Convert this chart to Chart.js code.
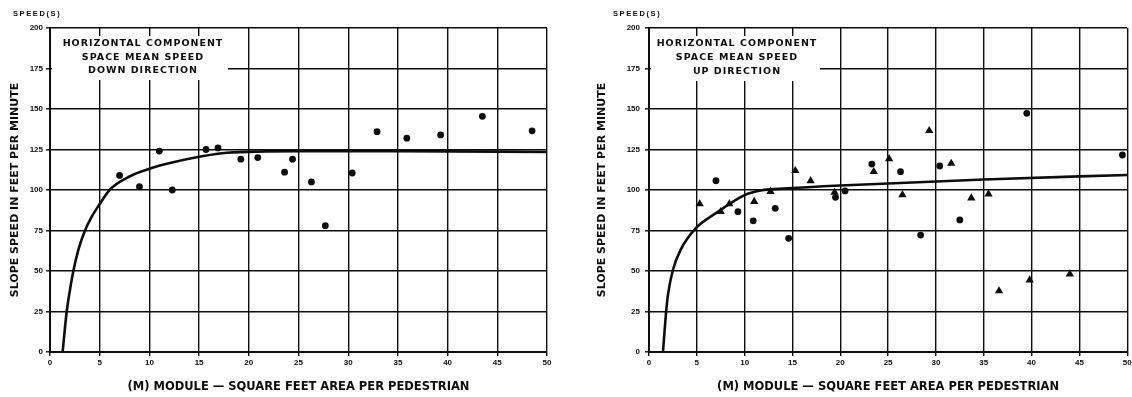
<!DOCTYPE html>
<html>
<head>
<meta charset="utf-8">
<script src="https://cdn.jsdelivr.net/npm/chart.js@4.4.1/dist/chart.umd.min.js"></script>
<style>
  html, body { margin: 0; padding: 0; background: #fff; }
  #wrap { position: relative; width: 1132px; height: 397px; overflow: hidden; }
  canvas { position: absolute; top: 0; display: block; }
</style>
</head>
<body>
<div id="wrap">
  <canvas id="left" width="566" height="397" style="left:0px"></canvas>
  <canvas id="right" width="566" height="397" style="left:566px"></canvas>
</div>
<script>
// ---- tick values ----
const moduleTicks = [0, 5, 10, 15, 20, 25, 30, 35, 40, 45, 50];
const speedTicks = [0, 25, 50, 75, 100, 125, 150, 175, 200];

// ---- DOWN direction (left chart) ----
const downDotM = [7, 9, 11, 12.3, 15.7, 16.9, 19.2, 20.9, 23.6, 24.4, 26.3, 27.7, 30.4, 32.9, 35.9, 39.3, 43.5, 48.5];
const downDotS = [109, 102, 124, 100, 125, 126, 119, 120, 111, 119, 105, 78, 110.5, 136, 132, 134, 145.5, 136.5];
const downCurveM = [1.27, 1.68, 2.0, 2.35, 2.85, 3.52, 4.2, 4.93, 6.04, 8.05, 9.96, 12.07, 15, 17.8, 25, 35, 50];
const downCurveS = [0, 25, 38, 50, 63, 75, 83.5, 90.7, 100.3, 108.5, 113, 116.6, 120.5, 123, 124, 124, 123.5];

// ---- UP direction (right chart) ----
const upDotM = [7, 9.3, 10.9, 13.2, 14.6, 19.5, 20.5, 23.3, 26.3, 28.4, 30.4, 32.5, 39.5, 49.5];
const upDotS = [105.7, 86.6, 81, 88.7, 70.2, 95.5, 99.4, 116, 111.3, 72.2, 114.8, 81.5, 147.3, 121.6];
const upTriM = [5.3, 7.5, 8.4, 11, 12.7, 15.3, 16.9, 19.4, 23.5, 25.1, 26.5, 29.3, 31.6, 33.7, 35.5, 36.6, 39.8, 44];
const upTriS = [91.4, 86.6, 91.4, 92.8, 99, 111.9, 105.7, 98.6, 111.3, 119.3, 97, 136.6, 116.4, 95, 97.5, 37.7, 44.4, 48.1];
const upCurveM = [1.46, 1.81, 2.0, 2.5, 3.3, 4.87, 6.96, 9.05, 10.4, 11.8, 13.6, 20, 25, 35, 50];
const upCurveS = [0, 26, 36, 50.6, 63, 76.3, 85.6, 93.8, 97.8, 99.9, 100.7, 102.8, 104, 106.5, 109.3];

// ---- texts ----
const yTitle = 'SLOPE SPEED IN FEET PER MINUTE';
const xTitle = '(M) MODULE \u2014 SQUARE FEET AREA PER PEDESTRIAN';
const speedLabel = 'SPEED(S)';
const downNote = ['HORIZONTAL COMPONENT', 'SPACE MEAN SPEED', 'DOWN DIRECTION'];
const upNote = ['HORIZONTAL COMPONENT', 'SPACE MEAN SPEED', 'UP DIRECTION'];

function pts(xs, ys) { return xs.map((x, i) => ({ x: x, y: ys[i] })); }

const INK = '#0d0d0d';

function makeChart(id, cfg) {
  const notePlugin = {
    id: 'note' + id,
    beforeDatasetsDraw(chart) {
      const ctx = chart.ctx;
      ctx.save();
      ctx.fillStyle = '#fff';
      ctx.fillRect(cfg.box[0], cfg.box[1], cfg.box[2], cfg.box[3]);
      ctx.fillStyle = INK;
      ctx.font = 'bold 9.5px "DejaVu Sans"';
      ctx.letterSpacing = '1px';
      ctx.textAlign = 'center';
      ctx.textBaseline = 'middle';
      cfg.note.forEach((t, i) => ctx.fillText(t, cfg.noteX, cfg.noteY[i]));
      ctx.restore();
    },
    afterDraw(chart) {
      const ctx = chart.ctx;
      ctx.save();
      ctx.fillStyle = INK;
      ctx.font = 'bold 7.5px "Liberation Sans"';
      ctx.letterSpacing = '1.6px';
      ctx.textAlign = 'left';
      ctx.textBaseline = 'middle';
      ctx.fillText(speedLabel, cfg.speedX, 14);
      ctx.restore();
    }
  };
  const tickFont = { family: '"Liberation Sans"', size: 8, weight: 'bold' };
  return new Chart(document.getElementById(id), {
    type: 'scatter',
    data: {
      datasets: cfg.datasets
    },
    options: {
      responsive: false,
      animation: false,
      events: [],
      layout: { padding: { top: 28, bottom: 0, left: cfg.padLeft, right: cfg.padRight } },
      plugins: { legend: { display: false }, tooltip: { enabled: false } },
      scales: {
        x: {
          type: 'linear', min: 0, max: 50,
          afterBuildTicks(s) { s.ticks = moduleTicks.map(v => ({ value: v })); },
          afterFit(s) { s.height = 45; s.paddingLeft = 0; s.paddingRight = 0; },
          ticks: { color: INK, font: tickFont, padding: 2, maxRotation: 0, autoSkip: false },
          grid: { color: INK, lineWidth: 1.4, tickLength: 4, tickColor: INK, tickWidth: 1.4 },
          border: { color: INK, width: 2 },
          title: { display: true, text: xTitle, color: INK,
                   font: { family: '"DejaVu Sans"', size: 11.5, weight: 'bold' },
                   padding: { top: 0, bottom: 3 } }
        },
        y: {
          type: 'linear', min: 0, max: 200,
          afterBuildTicks(s) { s.ticks = speedTicks.map(v => ({ value: v })); },
          afterFit(s) { s.width = cfg.yWidth; s.paddingTop = 0; s.paddingBottom = 0; },
          ticks: { color: INK, font: tickFont, padding: cfg.yTickPad, autoSkip: false },
          grid: { color: INK, lineWidth: 1.6, tickLength: 4, tickColor: INK, tickWidth: 1.4 },
          border: { color: INK, width: 2 },
          title: { display: true, text: yTitle, color: INK,
                   font: { family: '"DejaVu Sans"', size: 11, weight: 'bold' },
                   padding: { top: 9, bottom: 0 } }
        }
      }
    },
    plugins: [notePlugin]
  });
}

const curveStyle = { showLine: true, pointRadius: 0, borderColor: INK, borderWidth: 2.6,
                     cubicInterpolationMode: 'monotone', fill: false };
const dotStyle = { pointStyle: 'circle', pointRadius: 3.4, backgroundColor: INK, borderColor: INK, borderWidth: 0, showLine: false };
const triStyle = { pointStyle: 'triangle', pointRadius: 4.8, backgroundColor: INK, borderColor: INK, borderWidth: 0, showLine: false };

makeChart('left', {
  padLeft: 0, padRight: 19, yWidth: 50, yTickPad: 3,
  box: [52, 36, 176, 44], note: downNote, noteX: 143, noteY: [44, 58, 71], speedX: 13,
  datasets: [
    Object.assign({ data: pts(downCurveM, downCurveS) }, curveStyle),
    Object.assign({ data: pts(downDotM, downDotS) }, dotStyle)
  ]
});

makeChart('right', {
  padLeft: 21, padRight: 4, yWidth: 62, yTickPad: 5,
  box: [85, 36, 169, 45], note: upNote, noteX: 171, noteY: [44, 58, 72], speedX: 47,
  datasets: [
    Object.assign({ data: pts(upCurveM, upCurveS) }, curveStyle),
    Object.assign({ data: pts(upDotM, upDotS) }, dotStyle),
    Object.assign({ data: pts(upTriM, upTriS) }, triStyle)
  ]
});
</script>
</body>
</html>
